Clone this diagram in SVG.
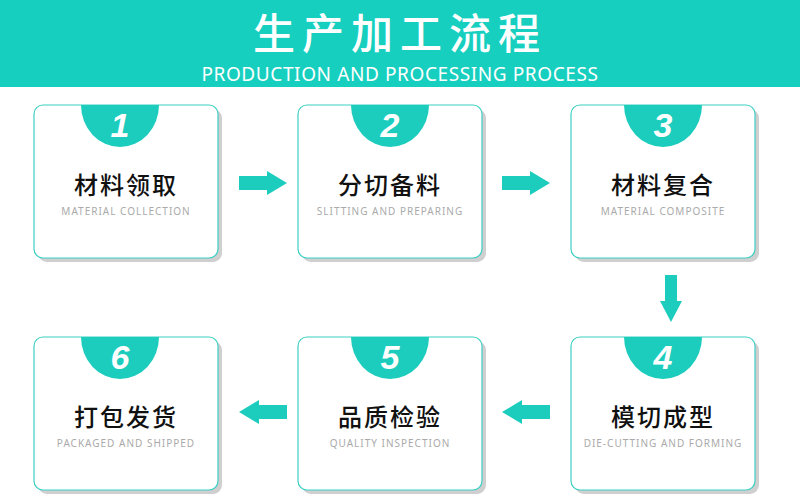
<svg xmlns="http://www.w3.org/2000/svg" width="800" height="501" viewBox="0 0 800 501">
<defs>
<style>
.box{fill:#fff;stroke:#3ccfc3;stroke-width:1.2}
.sh{fill:#cfcfcf}
.num{fill:#fff;font:italic bold 34px "Liberation Sans",sans-serif;text-anchor:middle}
.cn{fill:#111;font:500 24px "Noto Sans CJK SC",sans-serif;text-anchor:middle;letter-spacing:2px}
.en{fill:#aaa;font:10px "Noto Sans",sans-serif;text-anchor:middle;letter-spacing:1px}
.arr{fill:#1ccdbe}
</style>
</defs>
<rect x="0" y="0" width="800" height="87" fill="#17cfbf"/>
<text x="400" y="49" fill="#fff" font-family="Noto Sans CJK SC,sans-serif" font-weight="500" font-size="42" text-anchor="middle" letter-spacing="7">生产加工流程</text>
<text x="400" y="81" fill="#fff" font-family="Noto Sans,sans-serif" font-size="19" text-anchor="middle" letter-spacing="0.6">PRODUCTION AND PROCESSING PROCESS</text>
<g id="n1" transform="translate(34,105)">
<rect class="sh" x="4" y="4" width="184" height="153" rx="9"/><rect class="box" width="184" height="153" rx="9"/>
<path d="M47,0 A39,42 0 0 0 125,0 Z" fill="#1ccdbe"/><text class="num" x="86" y="32">1</text>
<text class="cn" x="92" y="89">材料领取</text><text class="en" x="92" y="110">MATERIAL COLLECTION</text></g>
<g id="n2" transform="translate(298,105)">
<rect class="sh" x="4" y="4" width="184" height="153" rx="9"/><rect class="box" width="184" height="153" rx="9"/>
<path d="M53,0 A39,42 0 0 0 131,0 Z" fill="#1ccdbe"/><text class="num" x="92" y="32">2</text>
<text class="cn" x="92" y="89">分切备料</text><text class="en" x="92" y="110">SLITTING AND PREPARING</text></g>
<g id="n3" transform="translate(571,105)">
<rect class="sh" x="4" y="4" width="184" height="153" rx="9"/><rect class="box" width="184" height="153" rx="9"/>
<path d="M53,0 A39,42 0 0 0 131,0 Z" fill="#1ccdbe"/><text class="num" x="92" y="32">3</text>
<text class="cn" x="92" y="89">材料复合</text><text class="en" x="92" y="110">MATERIAL COMPOSITE</text></g>
<g id="n4" transform="translate(571,337)">
<rect class="sh" x="4" y="4" width="184" height="153" rx="9"/><rect class="box" width="184" height="153" rx="9"/>
<path d="M53,0 A39,42 0 0 0 131,0 Z" fill="#1ccdbe"/><text class="num" x="92" y="32">4</text>
<text class="cn" x="92" y="89">模切成型</text><text class="en" x="92" y="110">DIE-CUTTING AND FORMING</text></g>
<g id="n5" transform="translate(298,337)">
<rect class="sh" x="4" y="4" width="184" height="153" rx="9"/><rect class="box" width="184" height="153" rx="9"/>
<path d="M53,0 A39,42 0 0 0 131,0 Z" fill="#1ccdbe"/><text class="num" x="92" y="32">5</text>
<text class="cn" x="92" y="89">品质检验</text><text class="en" x="92" y="110">QUALITY INSPECTION</text></g>
<g id="n6" transform="translate(34,337)">
<rect class="sh" x="4" y="4" width="184" height="153" rx="9"/><rect class="box" width="184" height="153" rx="9"/>
<path d="M47,0 A39,42 0 0 0 125,0 Z" fill="#1ccdbe"/><text class="num" x="86" y="32">6</text>
<text class="cn" x="92" y="89">打包发货</text><text class="en" x="92" y="110">PACKAGED AND SHIPPED</text></g>
<g id="connectors" class="arr">
<path d="M239,176 H267 V171 L287,183 L267,195 V190 H239 Z"/>
<path d="M502,176 H530 V171 L550,183 L530,195 V190 H502 Z"/>
<path d="M665,275 V301 H660 L671,322 L682,301 H677 V275 Z"/>
<path d="M550,405 H522 V400 L502,412 L522,424 V419 H550 Z"/>
<path d="M287,405 H259 V400 L239,412 L259,424 V419 H287 Z"/>
</g>
</svg>
